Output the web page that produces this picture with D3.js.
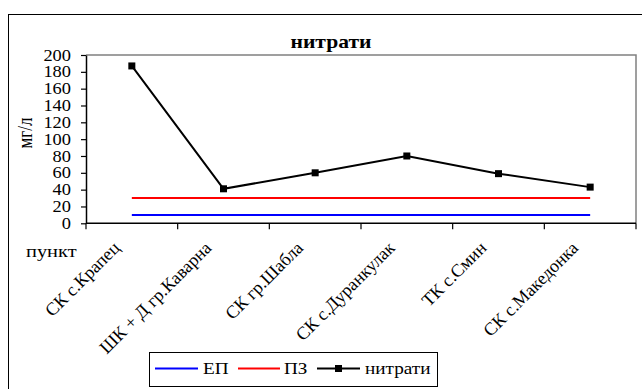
<!DOCTYPE html>
<html><head><meta charset="utf-8">
<script src="https://cdn.jsdelivr.net/npm/d3@7"></script>
<style>body{margin:0;background:#fff}svg{display:block}</style>
</head><body><svg id="c" width="642" height="389" font-family="Liberation Serif"></svg>
<script>
const categories = ["СК с.Крапец","ШК + Д гр.Каварна","СК гр.Шабла","СК с.Дуранкулак","ТК с.Смин","СК с.Македонка"];
const nitrates = [187, 41, 60, 80, 59, 43];
const epValues = [10, 10, 10, 10, 10, 10];
const pzValues = [30, 30, 30, 30, 30, 30];
const yTicks = [0, 20, 40, 60, 80, 100, 120, 140, 160, 180, 200];
const seriesNames = ["ЕП", "ПЗ", "нитрати"];
const titleText = "нитрати";
const yTitle = "мг/л";
const xTitle = "пункт";

const FF = "Liberation Serif";
const SX = 1.2;
const svg = d3.select("#c");
const L = 86, R = 636, T = 55, B = 223.3;
const x = d3.scaleBand().domain(categories).range([L, R]);
const cx = c => x(c) + x.bandwidth() / 2;
const y = d3.scaleLinear().domain([0, 200]).range([B, T]);

// outer border
svg.append("rect").attr("x", 8.5).attr("y", 14.5).attr("width", 700).attr("height", 400)
  .attr("fill", "none").attr("stroke", "#000").attr("stroke-width", 1);

// plot area border (gray top/right)
svg.append("path").attr("d", `M${L},${T}H${R}V${B}`).attr("fill", "none").attr("stroke", "#808080").attr("stroke-width", 1.5);

// y axis
const ya = svg.append("g").attr("transform", `translate(${L},0)`)
  .call(d3.axisLeft(y).tickValues(yTicks).tickSize(5).tickPadding(8).tickSizeOuter(0));
ya.attr("font-family", FF);
ya.select(".domain").attr("stroke", "#000").attr("stroke-width", 1.5);
ya.selectAll(".tick line").attr("stroke", "#000").attr("stroke-width", 1.2);
ya.selectAll(".tick text").attr("font-family", FF).attr("font-size", 16).attr("fill", "#000")
  .attr("x", -15 / 1.15).attr("transform", "scale(1.15,1)");

// x axis line + ticks at band boundaries
svg.append("line").attr("x1", L).attr("x2", R).attr("y1", B).attr("y2", B).attr("stroke", "#000").attr("stroke-width", 1.5);
const tickXs = categories.map(c => x(c)).concat([x.range()[1]]);
svg.append("g").selectAll("line").data(tickXs).join("line")
  .attr("x1", d => d).attr("x2", d => d).attr("y1", B).attr("y2", B + 6)
  .attr("stroke", "#000").attr("stroke-width", 1.2);

// x labels
svg.append("g").selectAll("text").data(categories).join("text")
  .attr("transform", d => `translate(${cx(d) - 11},249) rotate(-45)`)
  .attr("text-anchor", "end").attr("font-family", FF).attr("font-size", 18).text(d => d);

// series lines
const line = d3.line().x((d, i) => cx(categories[i])).y(d => y(d));
svg.append("path").datum(epValues).attr("d", line).attr("fill", "none").attr("stroke", "#0000ff").attr("stroke-width", 2);
svg.append("path").datum(pzValues).attr("d", line).attr("fill", "none").attr("stroke", "#ff0000").attr("stroke-width", 2);
svg.append("path").datum(nitrates).attr("d", line).attr("fill", "none").attr("stroke", "#000").attr("stroke-width", 2);
svg.append("g").selectAll("rect").data(nitrates).join("rect")
  .attr("x", (d, i) => cx(categories[i]) - 3.5).attr("y", d => y(d) - 3.5)
  .attr("width", 7).attr("height", 7).attr("fill", "#000");

// title
svg.append("text").attr("transform", `translate(331,48) scale(${SX},1)`).attr("text-anchor", "middle")
  .attr("font-family", FF).attr("font-size", 18).attr("font-weight", "bold").text(titleText);

// y title
svg.append("text").attr("transform", `translate(32,133) scale(${SX},1) rotate(-90)`).attr("text-anchor", "middle")
  .attr("font-family", FF).attr("font-size", 17).text(yTitle);

// x title
svg.append("text").attr("transform", `translate(26,256.5) scale(${SX},1)`).attr("font-family", FF).attr("font-size", 17).text(xTitle);

// legend
const lg = svg.append("g");
lg.append("rect").attr("x", 149.5).attr("y", 352.5).attr("width", 288).attr("height", 34)
  .attr("fill", "#fff").attr("stroke", "#000").attr("stroke-width", 1);
const legItems = [
  {name: seriesNames[0], color: "#0000ff", x0: 155, x1: 198, tx: 203, marker: false},
  {name: seriesNames[1], color: "#ff0000", x0: 238, x1: 280, tx: 284, marker: false},
  {name: seriesNames[2], color: "#000", x0: 317, x1: 360, tx: 365, marker: true}
];
const ly = 368.5;
legItems.forEach(it => {
  lg.append("line").attr("x1", it.x0).attr("x2", it.x1).attr("y1", ly).attr("y2", ly).attr("stroke", it.color).attr("stroke-width", 2);
  if (it.marker) lg.append("rect").attr("x", (it.x0 + it.x1) / 2 - 3.5).attr("y", ly - 3.5).attr("width", 7).attr("height", 7).attr("fill", "#000");
  lg.append("text").attr("transform", `translate(${it.tx},${ly + 5.5}) scale(${SX},1)`)
    .attr("font-family", FF).attr("font-size", 16).text(it.name);
});
</script></body></html>
